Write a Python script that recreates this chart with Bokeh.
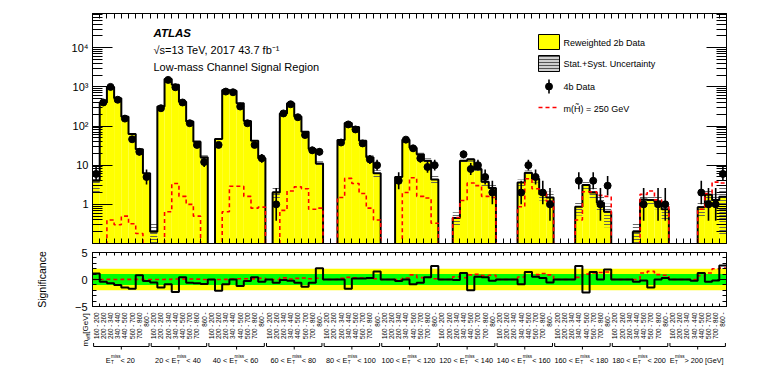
import math
import numpy as np
from bokeh.plotting import figure
from bokeh.layouts import column
from bokeh.models import (ColumnDataSource, FixedTicker, LinearAxis, LogAxis,
                          Range1d, Label, CustomLabelingPolicy)
from bokeh.core.properties import value
from bokeh.embed import file_html
from bokeh.resources import INLINE

# ---------------------------------------------------------------- data
meff_labels = ["160 - 200", "200 - 260", "260 - 340", "340 - 440",
               "440 - 560", "560 - 700", "700 - 860", "860 -"]
met_prefix = ["", "20 < ", "40 < ", "60 < ", "80 < ", "100 < ", "120 < ",
              "140 < ", "160 < ", "180 < ", ""]
met_suffix = [" < 20", " < 40", " < 60", " < 80", " < 100", " < 120",
              " < 140", " < 160", " < 180", " < 200", " > 200 [GeV]"]

# Reweighted 2b data (8 m_eff bins per E_T^miss region)
bkg_2b = [
    4.0, 400, 1000, 515, 174, 63, 25.6, 6.2,
    0.2, 315, 1600, 1130, 420, 130, 40, 16,
    0, 47, 830, 800, 380, 135, 42, 15,
    0, 2.0, 210, 380, 175, 72, 26, 11,
    0, 0, 44, 120, 95, 42, 16, 6.2,
    0, 0, 5.0, 45, 28, 19, 13, 4.3,
    0, 0, 0.45, 13, 14, 8.0, 3.8, 2.6,
    0, 0, 0, 3.6, 6.4, 4.5, 1.8, 1.5,
    0, 0, 0, 0.87, 3.1, 2.0, 1.1, 0.65,
    0, 0, 0, 0.2, 1.34, 1.3, 1.15, 0.75,
    0, 0, 0, 0, 0.84, 1.75, 1.3, 1.57,
]
# relative stat.+syst. uncertainty of the prediction
bkg_rel_unc = [
    0.5, 0.03, 0.03, 0.03, 0.04, 0.05, 0.08, 0.15,
    0.6, 0.03, 0.03, 0.03, 0.04, 0.05, 0.07, 0.12,
    0, 0.06, 0.03, 0.03, 0.04, 0.05, 0.08, 0.12,
    0, 0.3, 0.04, 0.04, 0.05, 0.06, 0.1, 0.15,
    0, 0, 0.08, 0.05, 0.06, 0.07, 0.12, 0.2,
    0, 0, 0.2, 0.07, 0.08, 0.1, 0.15, 0.25,
    0, 0, 0.4, 0.12, 0.12, 0.15, 0.25, 0.3,
    0, 0, 0, 0.2, 0.15, 0.2, 0.3, 0.4,
    0, 0, 0, 0.4, 0.2, 0.3, 0.4, 0.6,
    0, 0, 0, 0.6, 0.25, 0.3, 0.35, 0.5,
    0, 0, 0, 0, 0.4, 0.3, 0.4, 0.9,
]
# 4b data counts
data_4b = [
    6, 400, 1000, 470, 155, 46, 22, 5,
    0, 285, 1510, 980, 400, 118, 33, 12,
    0, 33, 760, 730, 315, 118, 33, 15,
    0, 1, 210, 360, 168, 59, 24, 22,
    0, 0, 38, 110, 82, 36, 14, 10,
    0, 0, 4, 45, 27, 15, 9, 10,
    0, 0, 0, 19, 8, 10, 5, 2,
    0, 0, 0, 2, 10, 5, 2, 1,
    0, 0, 0, 4, 0, 4, 1, 3,
    0, 0, 0, 0, 1, 0, 1, 1,
    0, 0, 0, 0, 2, 1, 1, 6,
]
# signal m(H~) = 250 GeV
signal_250 = [
    0, 0, 0.4, 0.3, 0.5, 0.32, 0.18, 0,
    0, 0, 0.65, 3.4, 1.6, 1.0, 0.5, 0,
    0, 0, 0.65, 2.9, 2.9, 1.6, 0.8, 0.85,
    0, 0, 0.7, 2.2, 2.8, 2.5, 0.75, 0.8,
    0, 0, 1.5, 4.6, 3.4, 1.9, 0.8, 0.4,
    0, 0, 0, 2.0, 4.8, 1.6, 1.45, 0.33,
    0, 0, 0.46, 1.25, 3.5, 3.0, 1.6, 1.5,
    0, 0, 0, 0.87, 4.5, 2.5, 2.0, 1.2,
    0, 0, 0, 0.4, 2.1, 2.1, 1.7, 1.6,
    0, 0, 0, 0, 1.8, 2.2, 1.3, 0.9,
    0, 0, 0, 0, 0.75, 1.9, 3.7, 3.5,
]
# significance: data vs prediction
signif_data = [
    1.1, -0.4, -0.7, -1.0, -1.5, -1.7, 0.8, -0.3,
    -0.55, -1.5, -0.9, -2.3, 0.4, -0.6, -0.7, -0.85,
    0, -2.1, -0.9, 0, -1.2, -0.3, 0.4, -0.4,
    0, -0.6, -0.1, -0.25, -0.6, -1.35, -0.6, 2.1,
    0, 0, 0, -1.7, 0.2, 0.2, 0.3, 1.5,
    0, 0, -0.3, 0, -0.9, -0.6, 0.4, 2.5,
    0, 0, -0.1, 1.2, -2.0, 0.5, 0.4, -0.25,
    0, 0, 0, -0.9, 1.4, 0.5, 0.3, -0.55,
    0, 0, 0, 2.5, -2.4, 1.4, 0, 1.85,
    0, 0, 0, -0.4, -0.2, -1.5, 0, 0.3,
    0, 0, 0, -0.25, 1.2, -0.4, -0.2, 2.6,
]
# significance: signal + prediction vs prediction
signif_signal = [
    0, 0, 0.02, 0.01, 0.03, 0.03, 0.03, 0,
    0, 0, 0.02, 0.1, 0.07, 0.08, 0.07, 0,
    0, 0, 0.02, 0.1, 0.14, 0.13, 0.12, 0.2,
    0, 0, 0.3, 0.1, 0.2, 0.28, 0.14, 0.22,
    0, 0, 0.2, 0.4, 0.33, 0.28, 0.2, 0.15,
    0, 0, 0, 0.28, 0.85, 0.35, 0.38, 0.15,
    0, 0, 0.5, 0.33, 0.85, 0.95, 0.75, 0.8,
    0, 0, 0, 0.45, 1.4, 0.9, 1.1, 0.85,
    0, 0, 0, 0.4, 1.0, 1.2, 1.3, 1.4,
    0, 0, 0, 0, 1.2, 1.5, 0.9, 0.8,
    0, 0, 0, 0, 0.7, 1.2, 2.0, 2.1,
]

# ---------------------------------------------------------------- layout
FONT = "Liberation Sans"
YELLOW = "#ffff00"
GREEN = "#00ff00"
RED = "#ff0000"
N_REG, N_MEFF = len(met_suffix), len(meff_labels)
NB = N_REG * N_MEFF
W_PAGE = 764
FR_L, FR_R = 92, 726          # frame left/right (page px)
T1, B1 = 13, 243              # main frame top/bottom
SPLIT1 = 247                  # boundary between figure 1 and 2
T2, B2 = 252, 306             # significance frame top/bottom
SPLIT2 = 311                  # boundary between figure 2 and 3
BOTTOM = 366
YLO, YHI = 0.1, 75000
FLOOR = 1e-3

BW = (FR_R - FR_L) / NB
LOG_LO, LOG_HI = math.log10(YLO), math.log10(YHI)


def fx(px):
    return (px - FR_L) / BW


def fy1(py):
    return 10 ** (LOG_HI - (py - T1) / (B1 - T1) * (LOG_HI - LOG_LO))


def fy3(py):
    return BOTTOM - py


WID = {' ': 0.278, '<': 0.584, '>': 0.584, '[': 0.278, ']': 0.278, 'G': 0.778,
       'e': 0.556, 'V': 0.667, 'E': 0.667, 'T': 0.611, 'm': 0.833, 'i': 0.222,
       's': 0.5, 'f': 0.278}


def text_w(s, size):
    return sum(WID.get(c, 0.556) for c in s) * size


bkg = np.array(bkg_2b, float)
unc = np.array(bkg_rel_unc, float)
dat = np.array(data_4b, float)
sig = np.array(signal_250, float)
edges = np.arange(NB + 1, dtype=float)
centers = edges[:-1] + 0.5


def step_xy(vals, floor=None):
    xs, ys = [], []
    for i, v in enumerate(vals):
        vv = v if (floor is None or v > 0) else floor
        xs += [edges[i], edges[i + 1]]
        ys += [vv, vv]
    return xs, ys


NO_LABELS = "for (const i of indices) { indices.unset(i) }; return indices"


def style_axis(ax, tick_in, minor_in, show_labels=False, size="11px"):
    ax.major_tick_in = tick_in
    ax.major_tick_out = 0
    ax.minor_tick_in = minor_in
    ax.minor_tick_out = 0
    ax.axis_line_color = "black"
    ax.major_tick_line_color = "black"
    ax.minor_tick_line_color = "black"
    ax.major_label_text_font = FONT
    ax.major_label_text_color = "black"
    if show_labels:
        ax.major_label_text_font_size = size
    else:
        ax.major_label_text_font_size = "1px"
        ax.major_label_policy = CustomLabelingPolicy(code=NO_LABELS)
        ax.major_label_standoff = 0


def add_label(p, x, y, text, size, style="normal", align="left",
              baseline="alphabetic", angle=0.0):
    p.add_layout(Label(x=x, y=y, text=text, text_font=FONT,
                       text_font_size=f"{size}px", text_font_style=style,
                       text_align=align, text_baseline=baseline, angle=angle,
                       text_color="black"))


# ================================================================ main panel
p1 = figure(width=W_PAGE, height=SPLIT1, x_range=Range1d(0, NB),
            y_range=Range1d(YLO, YHI), y_axis_type="log",
            output_backend="svg", toolbar_location=None,
            min_border_left=FR_L, min_border_right=W_PAGE - FR_R,
            min_border_top=T1, min_border_bottom=SPLIT1 - B1)
p1.grid.visible = False
p1.outline_line_color = "black"
p1.background_fill_color = "white"

log_major = [1, 10, 100, 1000, 10000]
log_minor = [k * 10.0 ** e for e in range(-1, 5) for k in range(2, 10)]
p1.yaxis.ticker = FixedTicker(ticks=log_major, minor_ticks=log_minor)
p1.yaxis.major_label_overrides = {1: "1", 10: "10", 100: "10²",
                                  1000: "10³", 10000: "10⁴"}
style_axis(p1.yaxis[0], 20, 10, True, "11px")
p1.yaxis.major_label_standoff = 4
r_ax = LogAxis(ticker=FixedTicker(ticks=log_major, minor_ticks=log_minor))
style_axis(r_ax, 20, 10)
p1.add_layout(r_ax, "right")

p1.below[0].ticker = FixedTicker(ticks=list(edges))
style_axis(p1.below[0], 5, 0)
t_ax = LinearAxis(ticker=FixedTicker(ticks=list(edges)))
style_axis(t_ax, 5, 0)
p1.add_layout(t_ax, "above")

pos = bkg > 0
p1.quad(left=edges[:-1][pos], right=edges[1:][pos], bottom=FLOOR,
        top=bkg[pos], fill_color=YELLOW, line_color=None)
p1.quad(left=edges[:-1][pos], right=edges[1:][pos],
        bottom=np.maximum(bkg[pos] * (1 - unc[pos]), FLOOR),
        top=bkg[pos] * (1 + unc[pos]), fill_alpha=0, line_color=None,
        hatch_pattern="horizontal_line", hatch_color="#555555",
        hatch_scale=3, hatch_weight=1, hatch_alpha=0.9)
hx, hy = step_xy(bkg, FLOOR)
p1.line(hx, hy, line_color="black", line_width=2)
sx, sy = step_xy(sig, FLOOR)
p1.line(sx, sy, line_color=RED, line_width=1.6, line_dash="4 3")

dpos = dat > 0
dn = dat[dpos]
err = np.sqrt(dn + 0.25)
p1.segment(x0=centers[dpos], x1=centers[dpos], y0=dn - (err - 0.5),
           y1=dn + err + 0.5, line_color="black", line_width=1.6)
p1.scatter(centers[dpos], dn, size=7, color="black")

# texts
add_label(p1, fx(153), fy1(32), "ATLAS", 11.5, style="bold italic")
add_label(p1, fx(153), fy1(49), "√s=13 TeV, 2017 43.7 fb⁻¹", 11)
add_label(p1, fx(153), fy1(66), "Low-mass Channel Signal Region", 11)
add_label(p1, fx(47), fy1(T1), "Events", 11.5, align="right", angle=math.pi / 2)

# legend
LX0, LX1, LT = 538, 559, 563
p1.quad(left=[fx(LX0)], right=[fx(LX1)], top=[fy1(34)], bottom=[fy1(49)],
        fill_color=YELLOW, line_color="black", line_width=1)
p1.quad(left=[fx(LX0)], right=[fx(LX1)], top=[fy1(55)], bottom=[fy1(71)],
        fill_color="#d0d0d0", line_color="black", line_width=1,
        hatch_pattern="horizontal_line", hatch_color="#555555",
        hatch_scale=3, hatch_weight=1)
lx = fx((LX0 + LX1) / 2)
p1.segment(x0=[lx], x1=[lx], y0=[fy1(79)], y1=[fy1(93)],
           line_color="black", line_width=1.6)
p1.scatter([lx], [fy1(86)], size=7, color="black")
p1.line([fx(LX0), fx(LX1)], [fy1(107), fy1(107)], line_color=RED,
        line_width=1.6, line_dash="4 3")
for txt, yy in [("Reweighted 2b Data", 42), ("Stat.+Syst. Uncertainty", 63),
                ("4b Data", 86), ("m(H\u0303) = 250 GeV", 108)]:
    add_label(p1, fx(LT), fy1(yy), txt, 9, baseline="middle")

# ================================================================ significance
p2 = figure(width=W_PAGE, height=SPLIT2 - SPLIT1, x_range=Range1d(0, NB),
            y_range=Range1d(-5, 5), output_backend="svg",
            toolbar_location=None,
            min_border_left=FR_L, min_border_right=W_PAGE - FR_R,
            min_border_top=T2 - SPLIT1, min_border_bottom=SPLIT2 - B2)
p2.grid.visible = False
p2.outline_line_color = "black"
p2.quad(left=[0], right=[NB], bottom=[-2], top=[2], fill_color=YELLOW,
        line_color=None)
p2.quad(left=[0], right=[NB], bottom=[-1], top=[1], fill_color=GREEN,
        line_color=None)
gx, gy = step_xy(signif_signal)
p2.line(gx, gy, line_color=RED, line_width=1.6, line_dash="4 3")
dx, dy = step_xy(signif_data)
p2.line(dx, dy, line_color="black", line_width=2)

p2.yaxis.ticker = FixedTicker(ticks=[-5, 0, 5], minor_ticks=list(range(-5, 6)))
style_axis(p2.yaxis[0], 9, 4, True, "11px")
p2.yaxis.major_label_standoff = 5
p2.yaxis.axis_label = "Significance"
p2.yaxis.axis_label_text_font = FONT
p2.yaxis.axis_label_text_font_size = "10.5px"
p2.yaxis.axis_label_text_font_style = "normal"
p2.yaxis.axis_label_text_color = "black"
p2.yaxis.axis_label_standoff = 24
r2 = LinearAxis(ticker=FixedTicker(ticks=[-5, 0, 5],
                                   minor_ticks=list(range(-5, 6))))
style_axis(r2, 9, 4)
p2.add_layout(r2, "right")
p2.below[0].ticker = FixedTicker(ticks=list(edges))
style_axis(p2.below[0], 3, 0)
t2 = LinearAxis(ticker=FixedTicker(ticks=list(edges)))
style_axis(t2, 3, 0)
p2.add_layout(t2, "above")

# ================================================================ labels below
H3 = BOTTOM - SPLIT2
p3 = figure(width=W_PAGE, height=H3, x_range=Range1d(fx(0), fx(W_PAGE)),
            y_range=Range1d(0, H3), output_backend="svg",
            toolbar_location=None, min_border=0,
            x_axis_location=None, y_axis_location=None)
p3.frame_align = False
p3.grid.visible = False
p3.outline_line_color = None

# rotated m_eff bin labels
p3.text(x=list(centers), y=[fy3(SPLIT2 + 1)] * NB,
        text=[meff_labels[i % N_MEFF] for i in range(NB)],
        angle=math.pi / 2, text_align="right", text_baseline="middle",
        text_font=value(FONT), text_font_size="6.3px", text_color="black")

# m_eff [GeV] axis title (rotated, built from pieces)
mf, ms = 8, 5.5
ya = 346
yb = ya - text_w("m", mf)
yc = yb - text_w("eff", ms)
p3.text(x=[fx(85), fx(87), fx(85)], y=[fy3(ya), fy3(yb), fy3(yc)],
        text=["m", "eff", " [GeV]"],
        text_font_size=[f"{mf}px", f"{ms}px", f"{mf}px"],
        angle=math.pi / 2, text_align="left", text_baseline="alphabetic",
        text_font=value(FONT), text_color="black")

# region brackets
bx0, bx1, by0, by1 = [], [], [], []
for r in range(N_REG):
    a, b, c = r * N_MEFF + 0.15, (r + 1) * N_MEFF - 0.15, r * N_MEFF + N_MEFF / 2
    bx0 += [a, a, b, c]
    bx1 += [b, a, b, c]
    by0 += [fy3(346)] * 4
    by1 += [fy3(346), fy3(342.5), fy3(342.5), fy3(349)]
p3.segment(x0=bx0, x1=bx1, y0=by0, y1=by1, line_color="black", line_width=1)

# region labels  (prefix E_T^miss suffix)
F, FS = 7.3, 4.6
tx, ty, tt, txo, tyo, tsz = [], [], [], [], [], []
for r in range(N_REG):
    pre, suf = met_prefix[r], met_suffix[r]
    w_pre = text_w(pre, F)
    w_e = text_w("E", F)
    w_scr = max(text_w("T", FS), text_w("miss", FS))
    w_suf = text_w(suf, F)
    total = w_pre + w_e + 0.5 + w_scr + w_suf
    start = -total / 2
    c = r * N_MEFF + N_MEFF / 2
    pieces = []
    if pre:
        pieces.append((pre, start, 0, F))
    pieces.append(("E", start + w_pre, 0, F))
    pieces.append(("T", start + w_pre + w_e + 0.5, 2.0, FS))
    pieces.append(("miss", start + w_pre + w_e + 0.5, -3.8, FS))
    pieces.append((suf, start + w_pre + w_e + 0.5 + w_scr, 0, F))
    for t, xo, yo, s in pieces:
        tx.append(c)
        ty.append(fy3(359.5))
        tt.append(t)
        txo.append(xo)
        tyo.append(yo)
        tsz.append(f"{s}px")
src = ColumnDataSource(dict(x=tx, y=ty, text=tt, xo=txo, yo=tyo, sz=tsz))
p3.text(x="x", y="y", text="text", x_offset="xo", y_offset="yo",
        text_font_size="sz", text_font=value(FONT), text_align="left",
        text_baseline="alphabetic", text_color="black", source=src)

layout = column(p1, p2, p3)
open("out.html", "w").write(file_html(layout, INLINE))
